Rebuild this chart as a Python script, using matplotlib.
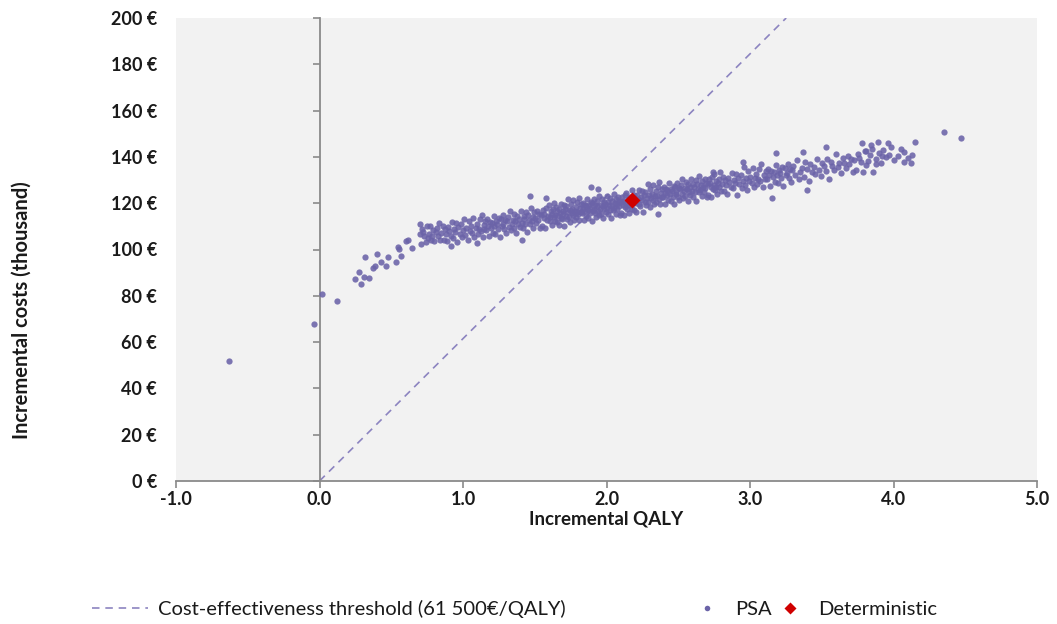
import matplotlib
matplotlib.use("Agg")
import matplotlib.pyplot as plt
from matplotlib.lines import Line2D

# ---------------- data ----------------
threshold = 61.5          # thousand EUR per QALY (61 500 EUR/QALY)
det_qaly = [2.18]
det_cost = [121.5]

# PSA cloud, (incremental QALY, incremental cost in thousand EUR), by region
psa_tail = [
    (-0.63, 52.0), (-0.04, 68.0), (0.02, 80.6), (0.12, 77.6), (0.25, 87.3), (0.274, 90.2),
    (0.286, 85.0), (0.31, 88.0), (0.346, 87.8), (0.32, 96.6), (0.374, 92.1), (0.39, 92.9),
    (0.404, 98.2), (0.432, 94.6), (0.46, 92.9), (0.479, 96.6), (0.532, 94.5), (0.553, 100.2),
    (0.571, 97.2), (0.606, 103.8), (0.646, 100.8), (0.697, 111.1), (0.55, 101.0), (0.62, 104.0),
]
psa_band_1 = [
    (0.702, 106.8), (0.708, 102.4), (0.715, 109.0), (0.724, 107.4), (0.731, 105.8), (0.739, 103.2),
    (0.746, 110.1), (0.755, 104.8), (0.763, 106.7), (0.770, 110.1), (0.779, 104.3), (0.786, 105.7),
    (0.794, 108.6), (0.801, 103.6), (0.810, 107.4), (0.818, 109.3), (0.825, 105.8), (0.834, 111.3),
    (0.842, 104.3), (0.849, 107.0), (0.858, 110.3), (0.866, 103.9), (0.873, 108.8), (0.881, 106.7),
    (0.889, 103.6), (0.897, 109.7), (0.905, 107.9), (0.913, 105.7), (0.918, 101.6), (0.921, 111.8),
    (0.929, 105.1), (0.937, 108.8), (0.945, 107.5), (0.953, 111.3), (0.961, 103.4), (0.968, 109.7),
    (0.977, 106.8), (0.985, 110.8), (0.993, 105.2), (1.001, 108.4), (1.008, 113.3), (1.016, 106.4),
    (1.024, 109.3), (1.033, 104.1), (1.040, 112.2), (1.048, 108.0), (1.056, 110.0), (1.064, 107.0),
    (1.072, 113.6), (1.080, 105.4), (1.088, 109.2), (1.095, 111.0), (1.100, 102.7),
]
psa_band_2 = [
    (1.104, 106.5), (1.111, 108.9), (1.117, 113.1), (1.124, 107.9), (1.130, 115.0), (1.136, 105.4),
    (1.143, 110.6), (1.149, 108.7), (1.156, 112.2), (1.162, 108.5), (1.168, 113.0), (1.175, 110.3),
    (1.181, 105.8), (1.187, 112.0), (1.194, 109.5), (1.200, 111.5), (1.206, 107.3), (1.213, 114.6),
    (1.219, 110.1), (1.225, 106.8), (1.232, 112.2), (1.238, 111.2), (1.244, 108.8), (1.251, 113.7),
    (1.257, 105.5), (1.263, 113.3), (1.270, 110.0), (1.276, 110.9), (1.282, 115.0), (1.289, 108.9),
    (1.295, 112.7), (1.301, 107.3), (1.308, 112.2), (1.314, 114.2), (1.320, 109.9), (1.327, 116.6),
    (1.333, 108.5), (1.339, 111.2), (1.346, 112.9), (1.352, 109.1), (1.358, 115.5), (1.365, 112.2),
    (1.371, 107.3), (1.377, 114.3), (1.384, 111.1), (1.390, 113.2), (1.396, 109.9), (1.403, 116.6),
    (1.409, 111.6), (1.410, 104.1), (1.415, 109.1), (1.422, 114.5), (1.428, 113.2), (1.434, 111.1),
    (1.441, 116.2), (1.447, 107.4), (1.453, 114.8), (1.460, 112.7), (1.466, 111.0), (1.470, 123.1),
    (1.472, 118.0), (1.479, 112.1), (1.485, 114.0), (1.491, 109.5), (1.498, 116.0), (1.504, 113.6),
    (1.510, 111.4), (1.517, 116.8), (1.523, 112.9), (1.529, 115.2), (1.536, 109.3), (1.542, 114.7),
    (1.548, 110.2), (1.555, 116.9), (1.561, 115.3), (1.567, 113.7), (1.574, 109.1), (1.575, 122.1),
    (1.580, 118.1), (1.586, 112.7), (1.593, 114.6), (1.599, 119.1),
]
psa_band_3 = [
    (1.604, 112.4), (1.608, 113.9), (1.613, 116.7), (1.617, 110.7), (1.622, 115.5), (1.626, 117.4),
    (1.631, 113.9), (1.635, 120.3), (1.640, 112.3), (1.644, 115.0), (1.649, 118.3), (1.653, 111.9),
    (1.658, 116.8), (1.662, 114.6), (1.667, 110.6), (1.671, 117.6), (1.676, 115.9), (1.680, 113.6),
    (1.685, 119.6), (1.689, 113.0), (1.694, 116.6), (1.698, 115.4), (1.703, 119.1), (1.707, 110.2),
    (1.712, 117.5), (1.716, 114.6), (1.721, 118.6), (1.725, 113.0), (1.730, 116.1), (1.734, 122.0),
    (1.739, 114.1), (1.743, 117.0), (1.748, 111.8), (1.752, 119.8), (1.757, 115.7), (1.761, 117.6),
    (1.766, 114.7), (1.770, 121.2), (1.775, 112.9), (1.779, 116.8), (1.784, 118.5), (1.788, 114.1),
    (1.793, 116.4), (1.797, 120.5), (1.802, 115.2), (1.806, 122.4), (1.811, 112.7), (1.815, 117.9),
    (1.820, 116.0), (1.824, 119.5), (1.829, 115.7), (1.833, 120.3), (1.838, 117.5), (1.842, 112.9),
    (1.847, 119.2), (1.851, 116.6), (1.856, 118.6), (1.860, 114.3), (1.865, 121.7), (1.869, 117.1),
    (1.874, 113.7), (1.878, 119.2), (1.883, 118.1), (1.887, 115.7), (1.890, 127.1), (1.892, 120.5),
    (1.896, 112.4), (1.901, 120.1), (1.905, 116.7), (1.910, 117.7), (1.914, 121.7), (1.919, 115.6),
    (1.923, 119.4), (1.928, 114.0), (1.932, 118.8), (1.937, 120.8), (1.940, 126.1), (1.941, 116.5),
    (1.946, 123.1), (1.950, 115.0), (1.955, 117.7), (1.959, 119.4), (1.964, 115.5), (1.968, 122.0),
    (1.973, 118.6), (1.977, 113.6), (1.982, 120.7), (1.986, 117.4), (1.991, 119.5), (1.995, 116.1),
    (2.000, 122.9), (2.004, 117.8), (2.009, 115.3), (2.013, 120.7), (2.018, 119.4), (2.022, 117.2),
    (2.027, 122.4), (2.031, 113.5), (2.036, 120.8), (2.040, 118.7), (2.045, 117.0), (2.049, 124.0),
    (2.054, 118.0), (2.058, 120.0), (2.063, 115.4), (2.067, 121.9), (2.072, 119.5), (2.076, 117.3),
    (2.081, 122.6), (2.085, 118.7), (2.090, 121.0), (2.094, 115.0), (2.099, 120.4), (2.103, 115.9),
    (2.108, 122.6), (2.112, 120.9), (2.117, 119.4), (2.121, 114.7), (2.126, 123.6), (2.130, 118.3),
    (2.135, 120.1), (2.139, 124.5), (2.144, 117.7), (2.148, 119.1), (2.153, 121.9), (2.157, 115.9),
    (2.162, 120.7), (2.166, 122.6), (2.171, 119.1), (2.175, 125.6), (2.180, 117.5), (2.184, 120.3),
    (2.189, 123.5), (2.193, 117.2), (2.198, 122.0),
]
psa_band_4 = [
    (2.203, 120.3), (2.208, 116.3), (2.213, 123.4), (2.218, 121.7), (2.224, 119.5), (2.229, 125.6),
    (2.234, 118.9), (2.239, 122.6), (2.244, 121.4), (2.249, 125.2), (2.255, 116.3), (2.260, 123.7),
    (2.265, 120.7), (2.270, 124.8), (2.275, 119.2), (2.281, 122.4), (2.286, 128.4), (2.291, 120.5),
    (2.296, 123.4), (2.301, 118.2), (2.306, 126.3), (2.312, 122.1), (2.317, 124.1), (2.322, 121.2),
    (2.327, 127.7), (2.332, 119.5), (2.337, 123.3), (2.343, 125.1), (2.348, 120.7), (2.353, 123.0),
    (2.358, 127.2), (2.360, 115.3), (2.363, 122.0), (2.368, 129.1), (2.374, 119.5), (2.379, 124.6),
    (2.384, 122.8), (2.389, 126.3), (2.394, 122.5), (2.399, 127.1), (2.405, 124.4), (2.410, 119.8),
    (2.415, 126.1), (2.420, 123.5), (2.425, 125.5), (2.430, 121.3), (2.436, 128.6), (2.441, 124.1),
    (2.446, 120.8), (2.451, 126.2), (2.456, 125.2), (2.461, 122.7), (2.467, 127.6), (2.472, 119.5),
    (2.477, 127.2), (2.482, 123.9), (2.487, 124.8), (2.492, 128.9), (2.498, 122.8), (2.503, 126.6),
    (2.508, 121.2), (2.513, 126.1), (2.518, 128.0), (2.523, 123.8), (2.529, 130.4), (2.534, 122.3),
    (2.539, 125.1), (2.544, 126.7), (2.549, 122.9), (2.554, 129.3), (2.560, 126.0), (2.565, 121.1),
    (2.570, 128.1), (2.575, 124.9), (2.580, 127.0), (2.585, 123.6), (2.591, 130.4), (2.596, 125.4),
    (2.601, 122.8), (2.606, 128.3), (2.611, 126.9), (2.616, 124.8), (2.622, 130.0), (2.627, 121.1),
    (2.632, 128.5), (2.637, 126.3), (2.642, 124.7), (2.647, 131.7), (2.653, 125.7), (2.658, 127.7),
    (2.663, 123.1), (2.668, 129.6), (2.673, 127.2), (2.678, 125.0), (2.684, 130.3), (2.689, 126.5),
    (2.694, 128.7), (2.699, 122.8), (2.704, 128.1), (2.709, 123.7), (2.715, 130.3), (2.720, 128.7),
    (2.725, 127.1), (2.730, 122.5), (2.735, 131.4), (2.740, 126.1), (2.742, 133.6), (2.746, 127.9),
    (2.751, 132.4), (2.756, 125.5), (2.761, 127.0), (2.766, 129.8), (2.771, 123.8), (2.777, 128.6),
    (2.782, 130.5), (2.787, 127.0), (2.792, 133.5), (2.797, 125.4),
]
psa_band_5 = [
    (2.803, 128.1), (2.811, 131.4), (2.818, 125.1), (2.826, 130.0), (2.834, 127.8), (2.841, 123.8),
    (2.849, 130.9), (2.857, 129.2), (2.865, 126.9), (2.872, 133.0), (2.880, 126.4), (2.888, 130.1),
    (2.895, 128.8), (2.903, 132.6), (2.911, 123.7), (2.918, 131.1), (2.926, 128.2), (2.934, 132.2),
    (2.942, 126.6), (2.949, 129.8), (2.950, 137.9), (2.957, 135.8), (2.965, 127.8), (2.972, 130.8),
    (2.980, 125.6), (2.988, 133.7), (2.995, 129.6), (3.003, 131.5), (3.011, 128.6), (3.019, 135.2),
    (3.026, 127.0), (3.034, 130.9), (3.042, 132.7), (3.049, 128.2), (3.057, 130.6), (3.065, 134.8),
    (3.072, 129.6), (3.080, 136.8), (3.088, 127.2), (3.095, 132.3), (3.103, 130.5), (3.111, 134.0),
    (3.118, 130.3), (3.126, 134.9), (3.134, 132.2), (3.141, 127.6), (3.150, 122.1), (3.149, 133.9),
    (3.157, 131.4), (3.164, 133.4), (3.172, 129.2), (3.180, 141.5), (3.180, 136.6), (3.187, 132.0),
    (3.195, 128.7), (3.203, 134.2), (3.210, 133.2), (3.218, 130.8), (3.226, 135.6), (3.233, 127.5),
    (3.241, 135.3), (3.249, 132.0), (3.256, 132.9), (3.264, 137.0), (3.272, 130.9), (3.279, 134.8),
    (3.287, 129.3), (3.295, 134.2),
]
psa_band_6 = [
    (3.303, 136.1), (3.315, 132.0), (3.327, 138.7), (3.338, 130.6), (3.350, 133.4), (3.362, 135.1),
    (3.370, 142.3), (3.374, 131.3), (3.386, 137.9), (3.397, 134.6), (3.400, 125.7), (3.409, 129.7),
    (3.421, 136.8), (3.433, 133.6), (3.445, 135.8), (3.456, 132.5), (3.468, 139.3), (3.480, 134.3),
    (3.492, 131.8), (3.504, 137.3), (3.515, 136.1), (3.530, 144.4), (3.527, 134.0), (3.539, 139.3),
    (3.551, 130.5), (3.563, 137.9), (3.574, 135.9), (3.586, 134.3), (3.598, 141.4), (3.610, 135.5),
    (3.622, 137.5), (3.633, 133.1), (3.645, 139.6), (3.657, 137.3), (3.669, 135.1), (3.681, 140.6),
    (3.692, 136.8), (3.704, 139.1), (3.716, 133.3), (3.728, 138.7), (3.740, 134.3), (3.751, 141.1),
    (3.763, 139.5), (3.775, 138.0), (3.780, 145.8), (3.787, 133.5), (3.799, 142.6),
]
psa_band_7 = [
    (3.805, 142.4), (3.81, 136.4), (3.82, 138.1), (3.835, 140.9), (3.84, 145.1), (3.85, 143.6),
    (3.86, 133.6), (3.875, 139.2), (3.88, 137.0), (3.89, 146.6), (3.90, 141.5), (3.915, 137.4),
    (3.92, 140.2), (3.93, 143.0), (3.945, 139.8), (3.96, 146.0), (3.97, 140.8), (3.985, 144.2),
    (4.00, 138.6), (4.03, 140.4), (4.05, 143.4), (4.07, 142.3), (4.07, 137.9), (4.10, 139.5),
    (4.12, 137.2), (4.13, 140.8), (4.15, 146.6), (4.35, 150.9), (4.47, 148.0),
]

x_ticks = [-1.0, 0.0, 1.0, 2.0, 3.0, 4.0, 5.0]
y_ticks = [0, 20, 40, 60, 80, 100, 120, 140, 160, 180, 200]
x_tick_labels = ["-1.0", "0.0", "1.0", "2.0", "3.0", "4.0", "5.0"]
y_tick_labels = [f"{v} €" for v in y_ticks]

psa_all = (psa_tail + psa_band_1 + psa_band_2 + psa_band_3 + psa_band_4
           + psa_band_5 + psa_band_6 + psa_band_7)
psa_qaly = [p[0] for p in psa_all]
psa_cost = [p[1] for p in psa_all]

# ---------------- style ----------------
plt.rcParams['font.family'] = ['Lato', 'DejaVu Sans']
DPI = 100
W, H = 1057, 624
psa_color = '#6B63A8'
line_color = '#8C84C0'
det_color = '#D00000'
axis_color = '#8A8A8A'
text_color = '#1a1a1a'

fig = plt.figure(figsize=(W / DPI, H / DPI), dpi=DPI)
L, R, T, B = 176, 1037, 18, 481
ax = fig.add_axes([L / W, 1 - B / H, (R - L) / W, (B - T) / H])
ax.set_facecolor('#F2F2F2')
ax.set_xlim(-1, 5)
ax.set_ylim(0, 200)

ax.axline((0, 0), slope=threshold, color=line_color, lw=1.2,
          linestyle=(0, (4.5, 3.5)), zorder=2)
ax.plot(psa_qaly, psa_cost, linestyle='none', marker='o', ms=4.5,
        mfc=psa_color, mec='none', alpha=0.88, zorder=3)
ax.plot(det_qaly, det_cost, linestyle='none', marker='D', ms=8.4,
        mfc=det_color, mec='none', zorder=4)

for s in ['top', 'right']:
    ax.spines[s].set_visible(False)
ax.spines['left'].set_position(('data', 0))
for s in ['left', 'bottom']:
    ax.spines[s].set_color(axis_color)
    ax.spines[s].set_linewidth(1.3)

ax.set_xticks(x_ticks)
ax.set_xticklabels(x_tick_labels)
ax.set_yticks(y_ticks)
ax.set_yticklabels(y_tick_labels)

tick_len_px = 7
zero_px = (0 - (-1)) / 6 * (R - L)
label_right_px = 157
ypad = (zero_px - tick_len_px + (L - label_right_px)) * 72 / DPI
ax.tick_params(axis='y', direction='out', length=tick_len_px * 72 / DPI,
               width=1.2, color=axis_color, pad=ypad, labelsize=13,
               labelcolor=text_color)
ax.tick_params(axis='x', direction='out', length=tick_len_px * 72 / DPI,
               width=1.2, color=axis_color, pad=2.5, labelsize=13,
               labelcolor=text_color)
for lab in ax.get_xticklabels() + ax.get_yticklabels():
    lab.set_fontweight('bold')

ax.set_xlabel("Incremental QALY", fontsize=13.5, fontweight='bold',
              color=text_color, va='center')
ax.xaxis.set_label_coords(0.5, (B - 519) / (B - T))
ax.set_ylabel("Incremental costs (thousand)", fontsize=14.5, fontweight='bold',
              color=text_color, va='center')
ax.yaxis.set_label_coords((22 - L) / (R - L), (B - 310) / (B - T))

# ---------------- legend ----------------
leg_y = 1 - 609 / H
h1 = Line2D([], [], color=line_color, lw=1.2, linestyle=(0, (4.5, 3.5)))
h2 = Line2D([], [], linestyle='none', marker='o', ms=4.0, mfc=psa_color, mec='none')
h3 = Line2D([], [], linestyle='none', marker='D', ms=6.0, mfc=det_color, mec='none')
common = dict(loc='center left', frameon=False, fontsize=14.5, borderpad=0,
              borderaxespad=0, labelcolor=text_color)
fig.legend([h1], ["Cost-effectiveness threshold (61 500€/QALY)"],
           bbox_to_anchor=(92 / W, leg_y), handlelength=2.8,
           handletextpad=0.5, **common)
fig.legend([h2], ["PSA"], bbox_to_anchor=(697 / W, leg_y),
           handlelength=1.0, handletextpad=0.9, **common)
fig.legend([h3], ["Deterministic"], bbox_to_anchor=(780 / W, leg_y),
           handlelength=1.0, handletextpad=0.9, **common)

fig.savefig("out.png", dpi=DPI)
